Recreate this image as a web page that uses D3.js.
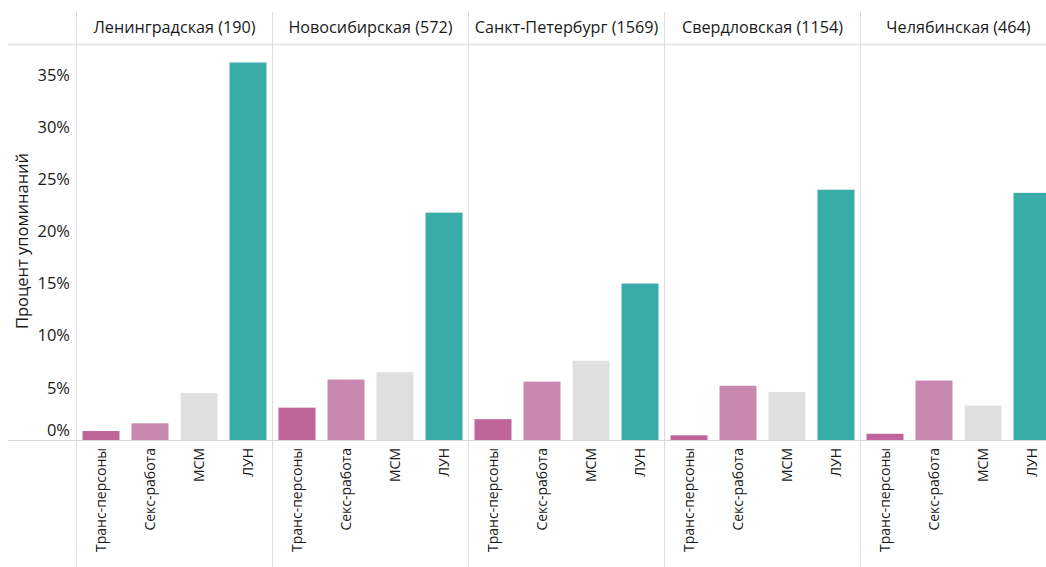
<!DOCTYPE html>
<html><head><meta charset="utf-8">
<script src="https://cdn.jsdelivr.net/npm/d3@7"></script>
<style>body{margin:0;background:#fff}svg{display:block}text{font-family:"Open Sans","Noto Sans",sans-serif;fill:#1a1a1a}</style>
</head><body><svg id="c" width="1046" height="567"></svg>
<script>
const regions = ["Ленинградская (190)", "Новосибирская (572)", "Санкт-Петербург (1569)", "Свердловская (1154)", "Челябинская (464)"];
const groups = ["Транс-персоны", "Секс-работа", "МСМ", "ЛУН"];
const transVals = [0.86, 3.1, 2.0, 0.45, 0.6];
const sexVals = [1.6, 5.8, 5.6, 5.2, 5.7];
const msmVals = [4.5, 6.5, 7.6, 4.6, 3.3];
const lunVals = [36.2, 21.8, 15.0, 24.0, 23.7];
const yTicks = [0, 5, 10, 15, 20, 25, 30, 35];
const colors = ["#c0659b", "#c988ae", "#e0e0e0", "#39aca9"];

const series = [transVals, sexVals, msmVals, lunVals];
const svg = d3.select("#c");
const leftX = 76.5, panelW = 196, headerY = 44, base = 440;

const y = d3.scaleLinear().domain([0, 35]).range([base, 75]);
const px = d3.scaleBand().domain(regions).range([leftX, leftX + panelW * regions.length]);
const bx = d3.scaleBand().domain(groups).range([0, panelW]).paddingInner(0.245).paddingOuter(0.1225);

// grid lines
svg.append("line").attr("x1", 8).attr("x2", 1046).attr("y1", headerY + 0.5).attr("y2", headerY + 0.5).attr("stroke", "#e2e2e2").attr("stroke-width", 1.5);
regions.forEach(r => {
  svg.append("line").attr("x1", px(r)).attr("x2", px(r)).attr("y1", 12).attr("y2", 567).attr("stroke", "#dcdcdc");
});

// bars
regions.forEach((r, i) => {
  const g = svg.append("g").attr("transform", `translate(${px(r)},0)`);
  groups.forEach((gr, j) => {
    const v = series[j][i];
    g.append("rect").attr("x", bx(gr)).attr("width", bx.bandwidth())
      .attr("y", y(v)).attr("height", base - y(v)).attr("fill", colors[j]);
  });
  g.append("text").attr("x", panelW / 2).attr("y", 27).attr("dy", "0.35em")
    .attr("text-anchor", "middle").attr("font-size", 16.2).text(r);
  groups.forEach(gr => {
    g.append("text").attr("transform", `translate(${bx(gr) + bx.bandwidth() / 2},448) rotate(-90)`)
      .attr("text-anchor", "end").attr("dy", "0.35em").attr("font-size", 14).text(gr);
  });
});

// baseline
svg.append("line").attr("x1", 8).attr("x2", 1046).attr("y1", base + 0.5).attr("y2", base + 0.5).attr("stroke", "#d6d6d6").attr("stroke-width", 1.2);

// y axis labels
const yAxis = d3.axisLeft(y).tickValues(yTicks).tickFormat(d => d + "%").tickSize(0).tickPadding(0);
const ya = svg.append("g").attr("transform", "translate(70,0)").call(yAxis);
ya.select(".domain").remove();
ya.selectAll("text").attr("font-size", 16.5).attr("fill", "#1a1a1a")
  .style("font-family", '"Open Sans","Noto Sans",sans-serif')
  .attr("dy", d => d === 0 ? "-0.3em" : "0.32em");

svg.append("text").attr("transform", "translate(22,241) rotate(-90)").attr("text-anchor", "middle")
  .attr("dy", "0.35em").attr("font-size", 16.5).text("Процент упоминаний");
</script></body></html>
